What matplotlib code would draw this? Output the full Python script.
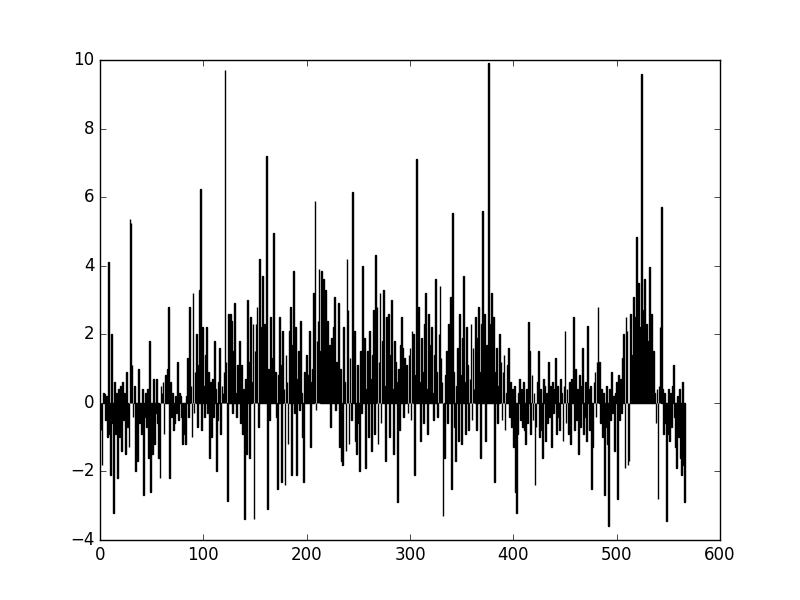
import matplotlib
matplotlib.use("Agg")
import matplotlib.pyplot as plt
import numpy as np

# bar heights, 10 per row (index 0..566)
values = [
    -0.3, -0.8, -1.8, 0.3, 0.25, -0.5, 0.2, -1.0, 4.1, -0.9,
    -2.1, 2.0, -0.6, -3.2, 0.6, -0.9, 0.3, -2.2, 0.4, -1.0,
    0.5, -1.4, 0.6, -0.5, 0.3, -1.5, 0.9, -0.7, -1.3, 5.35,
    5.25, 1.1, -0.4, 0.5, -2.0, -0.8, -1.7, 1.0, -0.6, -0.5,
    -0.9, 0.4, -2.7, -0.4, 0.3, -0.7, 0.4, -1.6, 1.8, -2.6,
    -0.5, -1.5, 0.7, -1.2, -0.3, 0.7, -0.6, -1.6, -2.2, 0.5,
    0.3, 0.6, -0.9, 0.8, 0.3, 1.0, 2.8, -2.2, 0.6, -0.4,
    0.3, -0.8, -0.6, 0.2, -0.3, 1.2, -0.5, 0.3, 0.2, -0.4,
    -1.2, -0.6, -0.9, -1.2, 0.2, 1.3, -0.4, 2.8, 0.5, -1.0,
    3.2, -0.3, 0.9, 2.0, -0.7, 1.1, 3.3, 6.25, -0.8, 2.2,
    0.5, -0.4, 1.4, 2.2, -0.3, 0.9, -1.6, 0.6, -1.0, 0.7,
    -0.4, 1.8, 0.4, -2.0, -0.5, 0.6, 1.6, -0.9, 0.5, 0.3,
    0.9, 9.7, 1.2, -2.85, 2.6, 0.8, 2.6, 2.4, -0.3, 1.5,
    2.9, 0.3, -0.4, 1.1, 0.5, 1.8, -0.6, 1.1, -0.9, 0.4,
    -3.4, 0.7, -1.5, 3.0, 1.2, -1.6, 2.5, 0.6, 2.3, -3.4,
    1.5, 2.3, 2.8, -0.7, 4.2, 2.2, 1.1, 3.7, 0.8, 2.3,
    1.4, 7.2, -3.1, 1.0, -0.5, 2.5, 0.3, 1.3, 4.95, 0.6,
    0.9, -0.4, -2.5, 0.8, 2.5, 1.1, -2.3, 2.1, 0.4, -2.4,
    1.4, 0.6, -1.2, 2.1, 2.8, -2.1, 1.7, 3.85, -0.3, 2.2,
    -2.1, 0.7, 1.5, -0.2, 2.4, 0.3, -1.0, -2.3, 0.9, 0.5,
    1.4, 0.2, 0.8, 2.1, -1.3, 0.6, 1.0, 3.2, 5.9, -0.2,
    1.8, 2.4, 3.9, 1.5, 3.85, 2.7, 3.6, 0.9, 3.3, 1.6,
    2.4, 0.5, 1.7, -0.7, 1.9, 0.8, 2.2, 3.1, -0.2, 1.2,
    0.7, 2.9, -1.3, 1.0, -1.7, -1.8, 2.2, 0.6, -1.4, 4.2,
    2.7, -1.2, 1.3, -0.5, 6.15, 0.9, 2.1, -1.1, -1.5, 1.1,
    -0.6, -2.0, 1.5, -0.3, 4.0, 0.8, 1.9, -1.9, 0.4, 1.5,
    -1.0, 2.1, 0.7, -1.4, 1.4, 2.7, -0.9, 4.3, 2.8, -1.2,
    1.2, 3.2, -0.6, 1.8, 3.3, 0.5, -1.7, 2.5, 0.9, 2.6,
    -1.0, 1.4, 3.0, 0.4, -1.5, 1.8, 1.2, 0.6, -2.9, 1.0,
    -0.8, 1.7, 2.5, 1.6, -0.4, 1.3, 0.7, 1.1, -0.3, 1.4,
    1.6, -0.5, 2.1, 2.0, -2.1, 0.8, 7.1, 1.2, 2.8, 0.6,
    -1.1, 1.9, 0.9, -0.6, 2.3, 3.2, 0.4, -0.9, 2.6, 0.7,
    1.7, 2.2, 0.3, -0.5, 1.4, 3.6, 0.9, -0.4, 2.0, 3.4,
    1.3, 0.6, -3.3, -1.6, 0.8, 1.5, -0.6, 2.3, 0.9, 3.1,
    -2.5, 5.55, 0.9, -0.7, -1.7, 0.5, 1.6, -1.1, 2.6, 0.8,
    -1.2, 1.9, 3.7, 0.6, -0.9, 2.2, 1.1, -0.8, 0.7, 2.3,
    -0.5, 1.6, 0.4, 2.5, -0.8, 1.9, 2.8, 0.9, -1.6, 2.3,
    5.6, 1.2, 2.6, -1.1, 1.7, 0.5, 9.9, 2.3, 1.4, 3.2,
    0.8, 2.5, -2.3, 0.9, 1.6, -0.6, 0.5, 2.0, 1.2, -0.5,
    0.9, 1.4, -0.8, 0.3, 1.1, 1.6, -0.4, 0.6, -0.7, 0.4,
    -1.3, 0.5, -2.6, -3.2, -0.9, 0.3, 0.7, -0.5, 0.4, -0.7,
    0.6, -0.8, -1.2, 0.4, -0.6, 2.35, 1.5, -0.9, 0.8, -0.5,
    0.3, -2.4, -0.7, 0.6, 1.5, -1.0, 0.4, -0.8, -1.6, 0.7,
    0.5, -1.1, 0.3, -0.6, 1.2, -0.4, 0.5, -1.3, 0.6, -0.3,
    0.4, 1.3, -0.9, 0.5, -0.4, -0.8, 0.7, 0.3, -1.1, 0.5,
    2.1, -0.6, 0.4, -0.9, 0.6, -1.2, 0.7, 0.3, 2.5, -0.8,
    1.0, -0.5, 0.4, -1.5, 0.8, -0.7, 0.5, 1.6, -0.9, -0.4,
    0.6, -1.1, 2.25, 0.4, -0.8, 0.5, -2.5, -1.3, 0.6, 0.9,
    -0.4, 1.2, 2.8, 1.2, -0.6, 0.4, -1.0, 0.3, -2.7, -0.7,
    0.5, -1.2, -3.6, 0.4, -0.5, 0.9, -0.3, 0.2, -1.4, 0.3,
    0.6, -2.8, 0.8, -0.5, 0.7, -0.3, 1.3, 2.0, -1.9, 2.5,
    2.1, -1.8, -1.7, 2.6, 0.7, 1.4, 3.1, 1.9, 2.5, 4.85,
    1.2, 3.5, 0.8, 2.2, 9.6, 0.4, 2.7, 3.6, 0.5, 2.3,
    0.4, 1.8, 3.95, 0.5, 2.6, 0.4, 1.5, 0.3, -0.6, 0.4,
    -2.8, 0.5, 2.2, 5.7, 0.4, -0.9, 0.3, -0.6, -3.45, -0.9,
    0.4, -1.1, 0.3, -0.7, 0.5, 1.1, -0.4, -1.3, -1.9, 0.2,
    -1.0, 0.4, -1.6, -2.1, 0.6, -1.8, -2.9,
]
index = np.arange(len(values))

plt.style.use('classic')
fig, ax = plt.subplots(figsize=(8, 6), dpi=100)
fig.patch.set_facecolor('white')

ax.bar(index, values, width=0.8, color='k', edgecolor='k', linewidth=1.0)

ax.set_xlim(0, 600)
ax.set_ylim(-4, 10)

fig.savefig("out.png", dpi=100, facecolor='white')
